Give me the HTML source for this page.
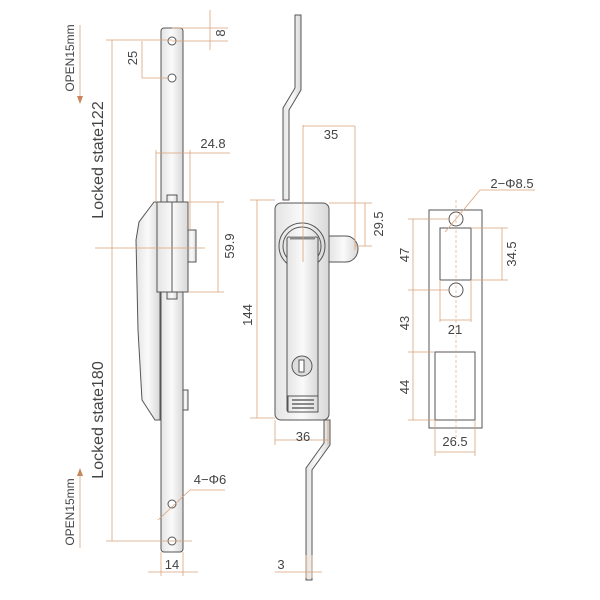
<!DOCTYPE html>
<html><head><meta charset="utf-8"><style>body{margin:0;background:#fff}svg{display:block}</style></head><body>
<svg width="600" height="600" viewBox="0 0 600 600" xmlns="http://www.w3.org/2000/svg" font-family="Liberation Sans, sans-serif">
<defs>
<linearGradient id="g" x1="0" x2="1"><stop offset="0" stop-color="#e4e4e4"/><stop offset="0.5" stop-color="#fafafa"/><stop offset="1" stop-color="#d8d8d8"/></linearGradient>
</defs>
<g stroke="#555" stroke-width="1" fill="url(#g)">
<rect x="161" y="28" width="22" height="524" rx="3"/>
<path d="M154,202 L139,222 L136,240 L138,330 L142,400 L155,420 L160,420 L160,202 Z"/>
<rect x="157" y="202" width="31" height="90"/>
<line x1="172" y1="202" x2="172" y2="292"/>
<rect x="188" y="230" width="8" height="32"/>
<rect x="167" y="195" width="10" height="7"/>
<rect x="167" y="292" width="10" height="7"/>
<rect x="183" y="390" width="5" height="20"/>
<circle cx="172" cy="41" r="4" fill="#fff"/>
<circle cx="172" cy="78" r="4" fill="#fff"/>
<circle cx="172" cy="504" r="4" fill="#fff"/>
<circle cx="172" cy="541" r="4" fill="#fff"/>
<path d="M295,15 L301,15 L301,90 L289,110 L289,200 L283,200 L283,108 L295,88 Z"/>
<path d="M324,420 L330,420 L330,445 L312,470 L312,580 L306,580 L306,468 L324,443 Z"/>
<path d="M329,236 L346,236 A12,13 0 0 1 346,262 L329,262 Z"/>
<rect x="275" y="203" width="54" height="217" rx="6"/>
<circle cx="302" cy="246" r="23"/>
<circle cx="302" cy="246" r="19"/>
<rect x="287" y="237" width="31" height="175" rx="2"/>
<line x1="290" y1="238" x2="315" y2="238" stroke="#888" stroke-width="3"/>
<circle cx="302" cy="366" r="10" fill="#ddd"/>
<rect x="299" y="360" width="5" height="12" fill="#fff"/>
<rect x="288" y="396" width="30" height="16"/>
<g stroke="#666" stroke-width="1.5"><line x1="292" y1="400" x2="314" y2="400"/><line x1="292" y1="404" x2="314" y2="404"/><line x1="292" y1="408" x2="314" y2="408"/></g>
<rect x="429" y="210" width="53" height="218" fill="none"/>
<rect x="440" y="228" width="31" height="52" fill="none"/>
<rect x="435" y="352" width="40" height="68" fill="none"/>
<circle cx="456" cy="219" r="7" fill="none"/>
<circle cx="456" cy="290" r="7" fill="none"/>
</g>
<line x1="456" y1="200" x2="456" y2="440" stroke="#d9a27a" stroke-width="0.6" stroke-dasharray="3,2"/>
<g stroke="#d9a27a" stroke-width="0.8" fill="none">
<line x1="80" y1="25" x2="80" y2="100"/><line x1="80" y1="472" x2="80" y2="548"/>
<line x1="112" y1="40" x2="112" y2="541"/><line x1="95" y1="248" x2="205" y2="248"/>
<line x1="106" y1="40" x2="172" y2="40"/><line x1="106" y1="541" x2="192" y2="541"/>
<line x1="210" y1="10" x2="210" y2="50"/><line x1="172" y1="28" x2="228" y2="28"/><line x1="172" y1="41" x2="228" y2="41"/>
<line x1="142" y1="41" x2="142" y2="78"/><line x1="142" y1="78" x2="168" y2="78"/>
<line x1="156" y1="153" x2="190" y2="153"/><line x1="156" y1="150" x2="156" y2="202"/><line x1="190" y1="150" x2="190" y2="230"/><line x1="190" y1="153" x2="230" y2="153"/>
<line x1="218" y1="202" x2="218" y2="292"/><line x1="188" y1="202" x2="224" y2="202"/><line x1="188" y1="292" x2="224" y2="292"/>
<path d="M158,520 L190,490 L225,490"/>
<line x1="161" y1="552" x2="161" y2="576"/><line x1="183" y1="552" x2="183" y2="576"/><line x1="148" y1="572" x2="198" y2="572"/>
<line x1="303" y1="125" x2="303" y2="262"/><line x1="303" y1="126" x2="355" y2="126"/><line x1="355" y1="126" x2="355" y2="250"/>
<line x1="329" y1="203" x2="372" y2="203"/><line x1="355" y1="246" x2="372" y2="246"/><line x1="365" y1="203" x2="365" y2="246"/>
<line x1="250" y1="200" x2="275" y2="200"/><line x1="250" y1="418" x2="275" y2="418"/><line x1="257" y1="200" x2="257" y2="418"/>
<line x1="275" y1="420" x2="275" y2="445"/><line x1="328" y1="420" x2="328" y2="445"/><line x1="275" y1="440" x2="328" y2="440"/>
<line x1="306" y1="555" x2="306" y2="578"/><line x1="312" y1="555" x2="312" y2="578"/><line x1="275" y1="572" x2="322" y2="572"/>
<path d="M445,232 L480,190 L535,190"/>
<line x1="413" y1="219" x2="413" y2="420"/><line x1="408" y1="219" x2="450" y2="219"/><line x1="408" y1="290" x2="450" y2="290"/><line x1="408" y1="352" x2="435" y2="352"/><line x1="408" y1="420" x2="435" y2="420"/>
<line x1="471" y1="228" x2="508" y2="228"/><line x1="471" y1="280" x2="508" y2="280"/><line x1="502" y1="228" x2="502" y2="280"/>
<line x1="440" y1="280" x2="440" y2="322"/><line x1="471" y1="280" x2="471" y2="322"/><line x1="440" y1="320" x2="471" y2="320"/>
<line x1="435" y1="420" x2="435" y2="456"/><line x1="475" y1="420" x2="475" y2="456"/><line x1="435" y1="452" x2="475" y2="452"/>
</g>
<g fill="#c9855a"><path d="M77,96 L83,96 L80,104 Z"/><path d="M77,476 L83,476 L80,468 Z"/></g>
<g fill="#444" font-size="13">
<text transform="translate(74,58) rotate(-90)" text-anchor="middle" font-size="12">OPEN15mm</text>
<text transform="translate(74,512) rotate(-90)" text-anchor="middle" font-size="12">OPEN15mm</text>
<text transform="translate(103,160) rotate(-90)" text-anchor="middle" font-size="16">Locked state122</text>
<text transform="translate(103,420) rotate(-90)" text-anchor="middle" font-size="16">Locked state180</text>
<text transform="translate(137,58) rotate(-90)" text-anchor="middle">25</text>
<text transform="translate(225,33) rotate(-90)" text-anchor="middle">8</text>
<text x="213" y="148" text-anchor="middle">24.8</text>
<text transform="translate(234,246) rotate(-90)" text-anchor="middle">59.9</text>
<text x="210" y="484" text-anchor="middle">4−Φ6</text>
<text x="172" y="569" text-anchor="middle">14</text>
<text x="331" y="139" text-anchor="middle">35</text>
<text transform="translate(383,224) rotate(-90)" text-anchor="middle">29.5</text>
<text transform="translate(252,315) rotate(-90)" text-anchor="middle">144</text>
<text x="303" y="441" text-anchor="middle">36</text>
<text x="281" y="569" text-anchor="middle">3</text>
<text x="512" y="188" text-anchor="middle">2−Φ8.5</text>
<text transform="translate(409,255) rotate(-90)" text-anchor="middle">47</text>
<text transform="translate(409,323) rotate(-90)" text-anchor="middle">43</text>
<text transform="translate(409,387) rotate(-90)" text-anchor="middle">44</text>
<text transform="translate(516,254) rotate(-90)" text-anchor="middle">34.5</text>
<text x="455" y="334" text-anchor="middle">21</text>
<text x="455" y="446" text-anchor="middle">26.5</text>
</g>
</svg>
</body></html>
